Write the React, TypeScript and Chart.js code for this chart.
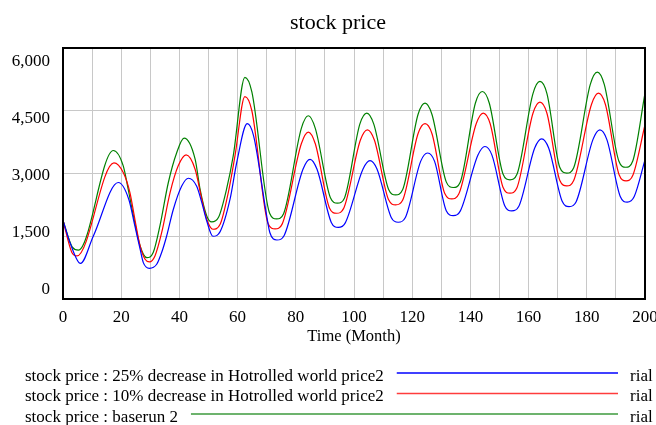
import React, { useEffect, useRef } from "react";
import { Chart, registerables } from "chart.js";

Chart.register(...registerables);

// ---- data ----
const blueMonths = [0, 2.5, 6, 10.4, 19, 22.6, 24.7, 26.5, 27.6, 29.7, 32.2, 33.9, 35.6, 37.9, 40.8, 43.1, 45.9, 47.7, 49.4, 51.5, 54, 57.4, 59.7, 63.3, 65.5, 70, 71.1, 73.5, 76, 82.5, 84.9, 87.3, 92.2, 94.6, 97, 103.1, 105.5, 107.9, 112.8, 115.2, 117.6, 122.9, 125.3, 127.7, 131.7, 134.1, 136.5, 142.6, 145, 147.4, 151.8, 154.2, 156.6, 162.1, 164.5, 166.9, 171.5, 173.9, 176.3, 182.1, 184.5, 186.9, 191.5, 193.9, 196.3, 200];
const blueValues = [1880, 1330, 850, 1500, 2785, 2385, 1746, 1190, 870, 734, 830, 1110, 1500, 2140, 2700, 2887, 2700, 2305, 1865, 1500, 1610, 2385, 3263, 4190, 3900, 1985, 1585, 1410, 1520, 3110, 3340, 3100, 1830, 1710, 1820, 3110, 3310, 3110, 1950, 1835, 1940, 3290, 3490, 3290, 2110, 1995, 2100, 3440, 3645, 3440, 2230, 2105, 2210, 3610, 3830, 3610, 2340, 2210, 2320, 3810, 4045, 3810, 2450, 2315, 2450, 3325];

const redMonths = [0, 3, 4.8, 17.5, 20.7, 23, 24.7, 26.5, 28.2, 29.7, 31.6, 33.9, 36.8, 39.6, 42.3, 45.4, 47.7, 49.4, 51.5, 54, 56.8, 59.1, 62.5, 64.9, 70.5, 72.9, 75.3, 81.9, 84.3, 86.7, 91.6, 94, 96.4, 102.2, 104.6, 107, 111.9, 114.3, 116.7, 122, 124.4, 126.8, 131.2, 133.6, 136, 142, 144.4, 146.8, 151.2, 153.6, 156, 161.5, 163.9, 166.3, 170.7, 173.1, 175.5, 181.6, 184, 186.4, 191.1, 193.5, 195.9, 200];
const redValues = [1880, 1120, 1030, 3255, 3024, 2545, 1906, 1268, 950, 887, 1030, 1585, 2545, 3183, 3445, 3103, 2385, 1906, 1667, 1786, 2545, 3422, 4840, 4500, 1800, 1675, 1790, 3710, 3990, 3710, 2170, 2050, 2160, 3800, 4045, 3800, 2370, 2250, 2360, 3950, 4190, 3950, 2520, 2395, 2510, 4190, 4445, 4190, 2670, 2530, 2660, 4440, 4705, 4440, 2840, 2705, 2830, 4650, 4920, 4650, 2970, 2825, 2970, 4165];

const greenMonths = [0, 3.2, 5.3, 17.3, 20.7, 22.4, 24.2, 26.5, 28.8, 31, 33.3, 36.2, 39.1, 41.6, 45.4, 47.1, 49.4, 51.1, 53.4, 56.2, 58.5, 62.5, 64.9, 71, 73.4, 75.8, 81.9, 84.3, 86.7, 91.9, 94.3, 96.7, 102, 104.4, 106.8, 111.9, 114.3, 116.7, 122, 124.4, 126.8, 131.7, 134.1, 136.5, 141.7, 144.1, 146.5, 151.2, 153.6, 156, 161.5, 163.9, 166.3, 170.7, 173.1, 175.5, 181.2, 183.6, 186, 191, 193.4, 195.8, 200];
const greenValues = [1880, 1240, 1170, 3550, 3183, 2625, 1985, 1268, 990, 1110, 1746, 2785, 3502, 3845, 3342, 2625, 1985, 1842, 1946, 2625, 3422, 5300, 4950, 2050, 1915, 2040, 4080, 4380, 4080, 2420, 2290, 2410, 4180, 4445, 4180, 2620, 2490, 2610, 4410, 4680, 4410, 2800, 2665, 2790, 4680, 4960, 4680, 2990, 2850, 2980, 4910, 5200, 4910, 3150, 3010, 3140, 5130, 5425, 5130, 3300, 3150, 3300, 4920];

const yTickValues = [0, 1500, 3000, 4500, 6000];
const seriesNames = [
  "stock price : 25% decrease in Hotrolled world price2",
  "stock price : 10% decrease in Hotrolled world price2",
  "stock price : baserun 2",
];
const seriesUnit = "rial";
const chartTitle = "stock price";
const xTitle = "Time (Month)";

const COLORS = ["#0000ff", "#ff0000", "#008000"];
const LEGEND_COLORS = ["#0000ff", "#ff3c3c", "#3c9a3c"];
const SERIF = "'Liberation Serif', 'Times New Roman', serif";

const toPoints = (xs: number[], ys: number[]) => xs.map((x, i) => ({ x, y: ys[i] }));

export default function App() {
  const ref = useRef<HTMLCanvasElement | null>(null);

  useEffect(() => {
    document.body.style.margin = "0";
    const canvas = ref.current;
    if (!canvas) return;

    const decorPlugin = {
      id: "decor",
      afterDraw(chart: any) {
        const ctx = chart.ctx;
        const a = chart.chartArea;
        ctx.save();
        // plot border
        ctx.strokeStyle = "#000";
        ctx.lineWidth = 2;
        ctx.strokeRect(a.left, a.top, a.right - a.left, a.bottom - a.top);
        // title
        ctx.fillStyle = "#000";
        ctx.textAlign = "center";
        ctx.textBaseline = "alphabetic";
        ctx.font = `22px ${SERIF}`;
        ctx.fillText(chartTitle, 338, 29);
        // x title
        ctx.font = `16.5px ${SERIF}`;
        ctx.fillText(xTitle, (a.left + a.right) / 2, 341);
        // legend
        ctx.font = `17px ${SERIF}`;
        ctx.textAlign = "left";
        const baselines = [380.5, 401, 421.5];
        seriesNames.forEach((name, i) => {
          const y = baselines[i];
          ctx.fillStyle = "#000";
          ctx.fillText(name, 25, y);
          const w = ctx.measureText(name).width;
          ctx.strokeStyle = LEGEND_COLORS[i];
          ctx.lineWidth = 1.6;
          ctx.beginPath();
          ctx.moveTo(25 + w + 13, y - 7.5);
          ctx.lineTo(618, y - 7.5);
          ctx.stroke();
          ctx.fillText(seriesUnit, 630, y);
        });
        ctx.restore();
      },
    };

    const chart = new Chart(canvas, {
      type: "line",
      data: {
        datasets: [
          { label: seriesNames[0], data: toPoints(blueMonths, blueValues), borderColor: COLORS[0] },
          { label: seriesNames[1], data: toPoints(redMonths, redValues), borderColor: COLORS[1] },
          { label: seriesNames[2], data: toPoints(greenMonths, greenValues), borderColor: COLORS[2] },
        ].map((d) => ({
          ...d,
          borderWidth: 1.2,
          pointRadius: 0,
          fill: false,
          cubicInterpolationMode: "monotone" as const,
          yAxisID: "y",
        })),
      },
      options: {
        responsive: false,
        animation: false,
        layout: { padding: { left: 0, right: 11, top: 48, bottom: 0 } },
        plugins: { legend: { display: false }, title: { display: false }, tooltip: { enabled: false } },
        scales: {
          x: {
            type: "linear",
            min: 0,
            max: 200,
            border: { display: false },
            grid: { color: "#c8c8c8", lineWidth: 1, drawTicks: false },
            ticks: {
              stepSize: 10,
              autoSkip: false,
              maxRotation: 0,
              padding: 8,
              color: "#000",
              font: { family: SERIF, size: 17 },
              callback: (v: any) => (Number(v) % 20 === 0 ? String(v) : ""),
            },
            afterFit: (s: any) => {
              s.height = 126;
              s.paddingLeft = 0;
              s.paddingRight = 0;
            },
          },
          y: {
            type: "linear",
            position: "left",
            min: 0,
            max: 6000,
            border: { display: false },
            grid: { color: "#c8c8c8", lineWidth: 1, drawTicks: false },
            ticks: { stepSize: 1500, display: false },
            afterFit: (s: any) => {
              s.width = 0;
              s.paddingTop = 0;
              s.paddingBottom = 0;
            },
          },
          yLabels: {
            type: "linear",
            position: "left",
            min: -244.7,
            max: 6360.5,
            border: { display: false },
            grid: { display: false, drawTicks: false },
            afterBuildTicks: (s: any) => {
              s.ticks = yTickValues.map((v) => ({ value: v }));
            },
            ticks: {
              padding: 13,
              color: "#000",
              font: { family: SERIF, size: 17 },
              callback: (v: any) => Number(v).toLocaleString("en-US"),
            },
            afterFit: (s: any) => {
              s.width = 63;
              s.paddingTop = 0;
              s.paddingBottom = 0;
            },
          },
        },
      },
      plugins: [decorPlugin],
    });

    return () => chart.destroy();
  }, []);

  return <canvas ref={ref} width={656} height={425} style={{ display: "block" }} />;
}
